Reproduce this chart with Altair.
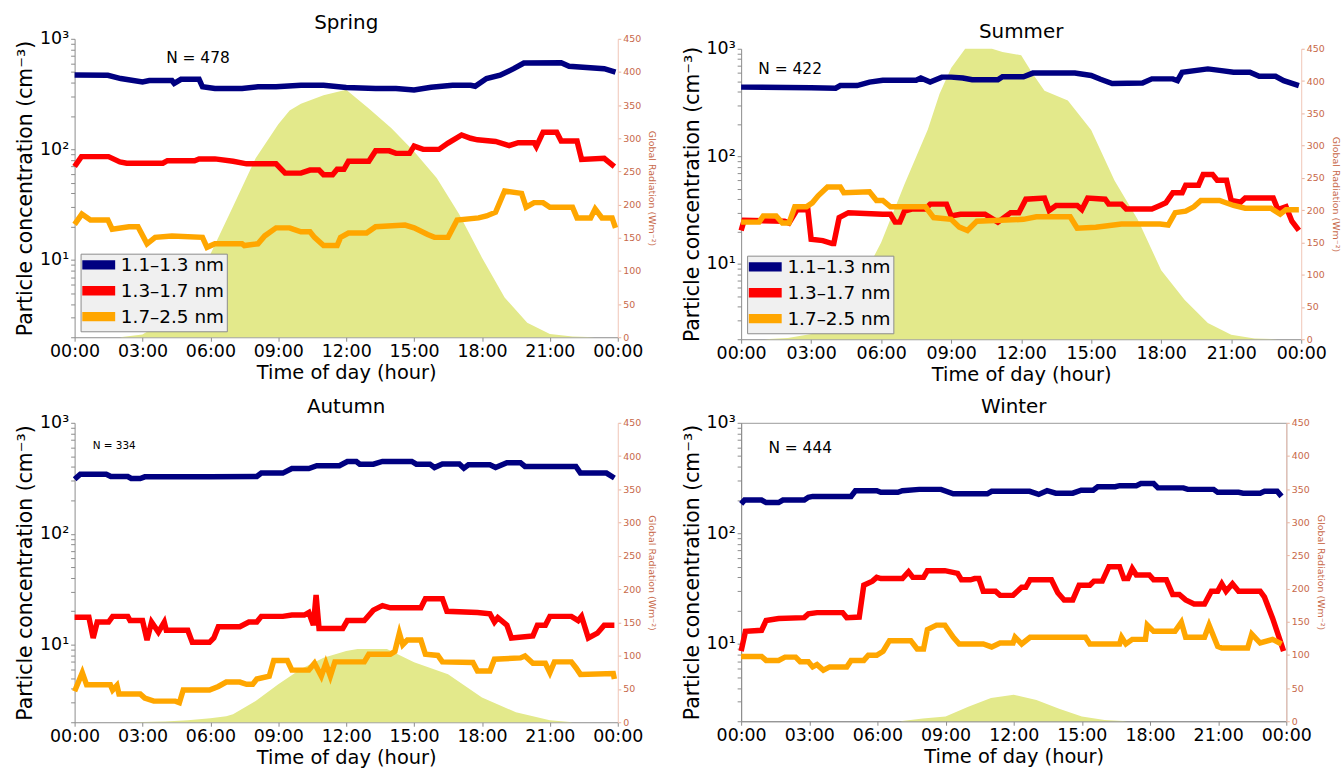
import altair as alt
import pandas as pd

FONT = "DejaVu Sans"
SIZES = ["1.1–1.3 nm", "1.3–1.7 nm", "1.7–2.5 nm"]
COLORS = ["#000080", "#ff0000", "#ffa600"]
AREA_COLOR = "#e3e98b"
RAD_COLOR = "#c8694a"

# ---------------- Spring ----------------
SPRING_T_BLUE = [0, 1.47, 2.04, 3.0, 3.3, 4.3, 4.4, 4.7, 5.5, 5.65, 6.2, 7.4, 8.1, 8.9, 10.0, 11.0, 12.0, 13.3, 14.2, 15.0,
                 15.75, 16.7, 17.5, 17.7, 18.2, 18.8, 19.4, 19.85, 21.5, 21.85, 23.4, 23.9]
SPRING_BLUE = [470, 468, 437, 408, 420, 420, 395, 430, 430, 368, 355, 355, 368, 368, 380, 380, 363, 355, 355, 345,
               365, 380, 380, 372, 437, 468, 537, 604, 608, 565, 537, 500]
SPRING_T_RED = [0, 0.3, 1.5, 2.0, 2.3, 3.9, 4.1, 5.3, 5.5, 6.2, 7.0, 7.6, 8.9, 9.3, 10.0, 10.4, 10.8, 11.0, 11.4, 11.6,
                11.9, 12.1, 13.0, 13.3, 13.9, 14.2, 14.8, 15.0, 15.4, 16.1, 16.5, 17.1, 17.5, 17.8, 18.6, 19.2, 19.6,
                20.3, 20.4, 20.7, 21.3, 21.5, 22.2, 22.4, 23.4, 23.85]
SPRING_RED = [70, 86, 86, 77, 75, 75, 79, 79, 82, 82, 78, 74, 74, 61, 61, 65, 65, 59, 59, 66,
              66, 78, 78, 97, 97, 92, 92, 107, 100, 100, 114, 135, 126, 122, 118, 108, 115,
              115, 106, 143, 143, 119, 119, 81, 83, 70]
SPRING_T_ORANGE = [0, 0.32, 0.7, 1.47, 1.66, 2.4, 2.8, 3.2, 3.56, 4.3, 5.65, 5.85, 6.2, 7.4, 7.5, 8.1, 8.4, 8.9, 9.5,
                   9.65, 10.0, 10.4, 10.6, 11.0, 11.6, 11.75, 12.1, 12.9, 13.3, 14.6, 15.0, 15.6, 15.9, 16.5, 16.9,
                   17.85, 18.2, 18.6, 19.0, 19.75, 19.95, 20.3, 20.7, 21.0, 22.0, 22.2, 22.8, 23.0, 23.3, 23.75, 23.9]
SPRING_ORANGE = [21, 26, 23, 23, 19, 20, 20, 14, 16, 16.5, 16, 13, 14, 14, 13.5, 14, 16.5, 19.5, 19.5,
                 19, 18, 18, 16, 13.5, 13.5, 16, 17.5, 17.5, 20, 20.7, 19.5, 17, 16, 16, 23,
                 24, 25, 27, 42, 40, 30, 33, 33, 30, 30, 24, 24, 29, 24, 24, 19.5]
SPRING_T_RAD = [0, 2, 3, 4, 5, 6, 7, 8, 9, 9.5, 10, 11, 12, 13, 14, 15, 16, 17, 18, 19, 20, 21, 22, 23, 24]
SPRING_RAD = [0, 0, 4, 25, 70, 125, 197, 270, 321, 342, 352, 365, 373, 345, 315, 280, 240, 185, 120, 60, 22, 5, 1, 0, 0]

# ---------------- Summer ----------------
SUMMER_T_BLUE = [0, 3.0, 4.05, 4.25, 4.97, 5.5, 6.07, 7.5, 7.7, 8.1, 8.6, 9.0, 9.5, 9.9, 11.0, 11.2, 12.1, 12.5, 14.3,
                 15.0, 15.4, 15.9, 17.2, 17.6, 18.5, 18.7, 18.9, 20.0, 20.5, 21.1, 21.8, 22.2, 22.9, 23.25, 23.9]
SUMMER_BLUE = [440, 435, 430, 455, 455, 490, 510, 510, 535, 490, 545, 545, 535, 515, 515, 550, 550, 594, 594,
               565, 520, 475, 480, 525, 525, 505, 605, 650, 630, 605, 605, 555, 555, 505, 455]
SUMMER_T_RED = [0, 0.13, 1.86, 2.05, 2.4, 2.86, 3.0, 3.5, 3.9, 3.97, 4.2, 4.6, 6.07, 6.4, 6.6, 6.8, 7.0, 7.35, 7.9,
                8.1, 8.8, 9.0, 9.4, 10.45, 11.0, 11.55, 11.9, 12.2, 13.0, 13.2, 13.5, 14.4, 14.6, 14.85, 15.6, 15.75,
                16.3, 16.5, 17.6, 17.95, 18.2, 18.5, 18.9, 19.05, 19.6, 19.8, 20.2, 20.4, 20.8, 21.0, 21.4, 21.6,
                22.8, 23.0, 23.35, 23.6, 23.9]
SUMMER_RED = [20.5, 25.5, 25, 24, 32, 32, 17, 16.5, 15.5, 15.5, 27, 30, 29, 29, 24.5, 24.5, 31, 32.5, 32.5,
              36, 36, 28, 29, 29, 24.5, 30, 30, 40, 41, 31.5, 35, 35, 32, 41, 40, 36,
              36, 32.5, 32.5, 35, 37, 46, 46, 54, 54, 68, 68, 60, 60, 39, 37.5, 41,
              41, 32, 34, 25, 20.5]
SUMMER_T_ORANGE = [0, 0.77, 0.95, 1.5, 1.77, 2.05, 2.3, 2.8, 3.05, 3.3, 3.7, 4.25, 4.4, 5.5, 5.8, 6.07, 6.4, 7.9, 8.25,
                   9.0, 9.35, 9.7, 10.1, 12.1, 12.65, 14.1, 14.4, 15.2, 16.3, 17.95, 18.3, 18.6, 19.05, 19.4, 19.7,
                   20.5, 21.1, 21.6, 22.7, 23.1, 23.35, 23.9]
SUMMER_ORANGE = [24.5, 24.5, 28, 28, 24, 24, 34, 34, 37, 43, 52, 52, 46, 47, 39, 39, 34, 34, 27,
                 26, 22, 20.5, 25, 26, 27.5, 27.5, 21.5, 22, 23.5, 23.5, 23, 30, 31, 34, 39,
                 39, 35, 33, 33, 29, 32, 32]
SUMMER_T_RAD = [0, 1, 2, 3, 4, 5, 6, 7, 8, 8.5, 9, 9.6, 10.75, 11.2, 12.0, 12.5, 13.0, 14.0, 15.0, 16.0, 17.0, 18, 19,
                20, 21, 22, 23, 24]
SUMMER_RAD = [0, 0, 2, 8, 30, 80, 150, 240, 325, 380, 420, 450, 450, 445, 440, 411, 385, 370, 324, 246, 185, 107, 61,
              25, 7, 1, 0, 0]

# ---------------- Autumn ----------------
AUTUMN_T_BLUE = [0, 0.25, 1.4, 1.6, 2.35, 2.5, 2.9, 3.1, 5.96, 8.05, 8.25, 9.2, 9.6, 10.35, 10.7, 11.7, 12.05, 12.45,
                 12.6, 13.2, 13.6, 14.9, 15.1, 15.7, 15.9, 16.25, 17.0, 17.2, 17.4, 18.35, 18.6, 19.1, 19.7, 19.9,
                 22.15, 22.35, 23.5, 23.85]
AUTUMN_BLUE = [310, 344, 344, 328, 328, 315, 315, 326, 326, 328, 352, 352, 387, 387, 410, 410, 448, 448,
               424, 424, 448, 448, 424, 424, 395, 426, 426, 390, 418, 418, 395, 437, 437, 404,
               404, 352, 352, 318]
AUTUMN_T_RED = [0, 0.63, 0.82, 1.0, 1.5, 1.68, 2.35, 2.45, 3.0, 3.2, 3.4, 3.7, 3.96, 4.05, 5.0, 5.2, 5.96, 6.15, 6.35,
                7.3, 7.7, 8.05, 8.25, 9.2, 9.6, 10.15, 10.35, 10.55, 10.67, 10.8, 11.85, 12.05, 12.8, 13.2, 13.6,
                13.95, 15.3, 15.5, 16.25, 16.45, 17.8, 18.35, 18.55, 18.7, 19.1, 19.3, 20.25, 20.45, 20.8, 21.0,
                21.95, 22.25, 22.4, 22.7, 23.1, 23.4, 23.85]
AUTUMN_RED = [17.7, 17.7, 11.5, 16, 16, 18, 18, 16.5, 16.5, 11, 16, 13, 16, 13.5, 13.5, 10.5, 10.5, 11.5, 14.5,
              14.5, 16, 16, 18, 18, 18.5, 18.5, 19.5, 15, 28, 14, 14, 16.5, 16.5, 20.5, 22.5,
              21.5, 21.5, 26, 26, 20, 19.5, 19, 16, 17.5, 15, 11.5, 12, 15, 15, 18,
              18, 16.5, 18, 11.5, 12.7, 15, 15]
AUTUMN_T_ORANGE = [0, 0.34, 0.53, 1.58, 1.68, 1.87, 1.96, 2.9, 3.1, 3.5, 4.45, 4.63, 4.8, 5.96, 6.35, 6.7, 7.3, 7.6,
                   7.87, 8.05, 8.6, 8.8, 9.4, 9.6, 10.35, 10.6, 10.9, 11.1, 11.3, 11.5, 12.8, 13.0, 13.95, 14.15,
                   14.35, 14.5, 14.7, 15.3, 15.5, 16.05, 16.25, 17.6, 17.8, 18.35, 18.55, 19.7, 19.9, 20.25, 20.8,
                   21.0, 21.2, 21.95, 22.15, 22.35, 23.8, 23.85]
AUTUMN_ORANGE = [3.8, 5.6, 4.35, 4.35, 3.9, 4.3, 3.6, 3.6, 3.3, 3.1, 3.1, 3.0, 3.9, 3.9, 4.2, 4.6, 4.6, 4.4,
                 4.4, 4.9, 5.2, 7.2, 7.2, 5.9, 5.9, 6.8, 5.2, 6.8, 5.2, 7.0, 7.0, 8.2, 8.2, 8.7,
                 12.7, 10, 11, 11, 8.2, 8, 7, 6.9, 5.8, 5.8, 7.4, 7.6, 7.9, 6.8, 6.8,
                 5.6, 7.0, 7.0, 6.2, 5.4, 5.5, 4.9]
AUTUMN_T_RAD = [0, 2, 3, 4, 5, 6, 6.7, 7, 8, 9, 10, 11, 12, 12.5, 13.8, 15, 16.5, 18, 19.5, 21, 22, 24]
AUTUMN_RAD = [0, 0, 0.5, 1, 3, 6, 9, 12, 32, 57, 80, 97, 107, 110, 110, 90, 72, 37, 15, 3, 0, 0]

# ---------------- Winter ----------------
WINTER_T_BLUE = [0, 0.15, 0.9, 1.1, 1.65, 1.84, 2.78, 2.96, 3.15, 4.84, 5.03, 5.97, 6.15, 6.9, 7.1, 7.84, 8.8, 9.34,
                 10.84, 11.03, 12.7, 13.1, 13.47, 13.85, 14.6, 14.97, 15.5, 15.7, 16.47, 16.66, 17.4, 17.6, 18.16,
                 18.35, 19.47, 19.66, 20.8, 20.98, 21.9, 22.1, 22.85, 23.04, 23.6, 23.79]
WINTER_BLUE = [185, 200, 200, 190, 190, 200, 200, 212, 216, 216, 243, 243, 235, 235, 243, 250, 250, 228,
               228, 240, 240, 225, 243, 231, 231, 246, 246, 264, 264, 270, 270, 282, 282,
               258, 258, 250, 250, 235, 235, 231, 231, 240, 240, 216]
WINTER_T_RED = [0, 0.19, 0.9, 1.1, 1.65, 2.78, 2.96, 3.34, 4.47, 4.65, 5.2, 5.4, 5.78, 5.97, 6.15, 7.1, 7.37, 7.56,
                8.03, 8.2, 8.97, 9.53, 9.7, 10.1, 10.28, 10.47, 10.66, 11.2, 11.4, 11.97, 12.35, 12.53, 12.72, 13.66,
                13.94, 14.22, 14.6, 14.88, 15.35, 15.53, 15.9, 16.19, 16.66, 16.85, 17.03, 17.22, 17.4, 17.97,
                18.16, 18.72, 19.0, 19.29, 19.57, 19.94, 20.4, 20.7, 20.98, 21.16, 21.35, 21.63, 21.9, 22.85,
                23.04, 23.4, 23.7, 23.88]
WINTER_RED = [8.6, 13, 13.3, 16.3, 17, 17.3, 18.7, 19.2, 19.2, 17.3, 17.5, 34, 37, 40, 39, 39, 45, 40,
              40, 46, 46, 43.5, 38, 38, 39, 39, 30, 30, 27.5, 27.5, 32.5, 32.5, 38, 38,
              29, 25, 25, 34, 34, 37, 37, 50, 50, 39, 39, 48, 42, 42,
              38, 38, 28, 28, 25, 23, 23, 30, 30, 35, 30, 35, 30, 30,
              26.5, 17, 11.2, 8.6]
WINTER_T_ORANGE = [0, 0.9, 1.1, 1.65, 1.93, 2.4, 2.6, 2.96, 3.15, 3.34, 3.62, 3.9, 4.65, 4.84, 5.4, 5.6, 5.97, 6.25,
                   6.53, 7.47, 7.75, 8.03, 8.2, 8.6, 8.97, 9.34, 9.6, 10.66, 11.03, 11.4, 11.97, 12.06, 12.35,
                   12.72, 15.16, 15.35, 16.66, 16.75, 16.94, 17.22, 17.8, 17.88, 18.16, 19.1, 19.38, 19.57, 20.4,
                   20.6, 20.98, 21.16, 22.3, 22.48, 22.85, 23.4, 23.79]
WINTER_ORANGE = [7.7, 7.7, 7.1, 7.1, 7.6, 7.6, 6.9, 6.9, 6.2, 6.5, 5.8, 6.2, 6.2, 7.1, 7.1, 7.9, 7.9, 8.6,
                 10.7, 10.7, 9.0, 9.0, 13.5, 14.8, 14.8, 11.5, 10, 10, 9.4, 10.2, 10.2, 11.5, 10,
                 11.5, 11.5, 10, 10, 11.5, 10, 11, 11, 14.8, 13, 13, 15.7, 11.5, 11.5,
                 14.8, 9.5, 9.2, 9.2, 12.3, 10.2, 11, 10]
WINTER_T_RAD = [0, 7, 8, 9, 10, 11, 12, 13, 14, 15, 16, 17, 24]
WINTER_RAD = [0, 0, 4, 7, 22, 35, 40, 32, 19, 7, 2, 0, 0]

# annotations (label, hour, concentration)
N_LABELS = ["N = 478", "N = 422", "N = 334", "N = 444"]
N_HOURS = [5.45, 2.1, 1.75, 2.6]
N_CONC = [675, 650, 620, 590]

X_TICKS = list(range(0, 25, 3))
LOG_TICKS = [2, 3, 4, 5, 6, 7, 8, 9, 10, 20, 30, 40, 50, 60, 70, 80, 90,
             100, 200, 300, 400, 500, 600, 700, 800, 900, 1000]
RAD_TICKS = list(range(0, 451, 50))

LEGEND_SHAPE = "M-2.55,-0.4H2.55V0.4H-2.55Z"


def make_panel(title, width, height, top_gap, rad_t, rad_v, series, n_idx, n_size, show_legend, framed):
    frames = []
    for name, (t, v) in zip(SIZES, series):
        d = pd.DataFrame({"hour": t, "conc": v})
        d["size"] = name
        frames.append(d)
    lines_df = pd.concat(frames, ignore_index=True)
    rad_df = pd.DataFrame({"hour": rad_t, "rad": rad_v})
    n_df = pd.DataFrame({"hour": [N_HOURS[n_idx]], "conc": [N_CONC[n_idx]], "label": [N_LABELS[n_idx]]})

    x_axis = alt.Axis(values=X_TICKS,
                      labelExpr="datum.value == 24 ? '00:00' : (datum.value < 10 ? '0' : '') + datum.value + ':00'",
                      title="Time of day (hour)", titleFontSize=19.5, titleFontWeight="normal", titleColor="black",
                      labelFontSize=17.5, labelColor="black", labelPadding=1, titlePadding=4,
                      domainColor="#8c8c8c", tickColor="#8c8c8c", tickSize=4, grid=False,
                      labelFlush=False, labelOverlap=False)
    x = alt.X("hour:Q", scale=alt.Scale(domain=[0, 24], nice=False, zero=False), axis=x_axis)

    y_axis = alt.Axis(orient="left", values=LOG_TICKS,
                      labelExpr="datum.value == 10 ? '10¹' : datum.value == 100 ? '10²' : datum.value == 1000 ? '10³' : ''",
                      title="Particle concentration (cm⁻³)", titleFontSize=20.5, titleFontWeight="normal",
                      titleColor="black", labelFontSize=17.5, labelColor="black", labelPadding=2, titlePadding=4,
                      domainColor="#8c8c8c", tickColor="#8c8c8c", tickSize=4, grid=False,
                      labelOverlap=False, labelFlush=False)
    y_range = [height, top_gap]
    y_log = alt.Y("conc:Q", scale=alt.Scale(type="log", domain=[2, 1000], nice=False, range=y_range), axis=y_axis)

    rad_axis = alt.Axis(orient="right", values=RAD_TICKS, title="Global Radiation (Wm⁻²)",
                        titleFontSize=9.5, titleFontWeight="normal", titleColor=RAD_COLOR,
                        labelFontSize=9.5, labelColor=RAD_COLOR, labelPadding=2, titlePadding=6,
                        domainColor="#f0c6b6", tickColor="#e9b29e", tickSize=3, grid=False,
                        labelOverlap=False, labelFlush=False)
    area = alt.Chart(rad_df).mark_area(color=AREA_COLOR, opacity=1).encode(
        x=x,
        y=alt.Y("rad:Q", scale=alt.Scale(domain=[0, 450], nice=False, range=y_range), axis=rad_axis),
    )

    if show_legend:
        legend = alt.Legend(orient="bottom-left", title=None, fillColor="#f0f0f0", strokeColor="#8c8c8c",
                            padding=2, offset=6, symbolType=LEGEND_SHAPE, symbolStrokeWidth=5, symbolSize=121,
                            symbolOffset=7, labelOffset=13, labelFontSize=18.5, labelFont=FONT,
                            labelColor="black", rowPadding=1)
        color = alt.Color("size:N", scale=alt.Scale(domain=SIZES, range=COLORS), legend=legend)
    else:
        color = alt.Color("size:N", scale=alt.Scale(domain=SIZES, range=COLORS), legend=None)

    lines = alt.Chart(lines_df).mark_line(strokeWidth=5.5).encode(x=x, y=y_log, color=color)
    text = alt.Chart(n_df).mark_text(fontSize=n_size, font=FONT, color="black").encode(
        x=x, y=y_log, text="label:N")

    props = dict(width=width, height=height,
                 title=alt.TitleParams(title, fontSize=20, fontWeight="normal", font=FONT, color="black",
                                       offset=-3, anchor="middle", frame="group"))
    if framed:
        props["view"] = alt.ViewBackground(stroke="#9a9a9a", strokeWidth=1)
    return alt.layer(area, alt.layer(lines, text)).resolve_scale(y="independent").properties(**props)


spring = make_panel("Spring", 546, 300, 0, SPRING_T_RAD, SPRING_RAD,
                    [(SPRING_T_BLUE, SPRING_BLUE), (SPRING_T_RED, SPRING_RED), (SPRING_T_ORANGE, SPRING_ORANGE)],
                    0, 15.5, True, False)
summer = make_panel("Summer", 563, 302, 10, SUMMER_T_RAD, SUMMER_RAD,
                    [(SUMMER_T_BLUE, SUMMER_BLUE), (SUMMER_T_RED, SUMMER_RED), (SUMMER_T_ORANGE, SUMMER_ORANGE)],
                    1, 15.5, True, False)
autumn = make_panel("Autumn", 546, 301, 0, AUTUMN_T_RAD, AUTUMN_RAD,
                    [(AUTUMN_T_BLUE, AUTUMN_BLUE), (AUTUMN_T_RED, AUTUMN_RED), (AUTUMN_T_ORANGE, AUTUMN_ORANGE)],
                    2, 10.5, False, False)
winter = make_panel("Winter", 548, 300, 0, WINTER_T_RAD, WINTER_RAD,
                    [(WINTER_T_BLUE, WINTER_BLUE), (WINTER_T_RED, WINTER_RED), (WINTER_T_ORANGE, WINTER_ORANGE)],
                    3, 15.5, False, True)

chart = alt.concat(
    spring, summer, autumn, winter,
    columns=2, bounds="flush", align="all",
    spacing=alt.RowColnumber(row=84, column=107),
).resolve_scale(color="independent").properties(
    padding={"left": 15, "top": 11, "right": 0, "bottom": 0},
    background="white",
).configure_view(strokeWidth=0).configure_axis(labelFont=FONT, titleFont=FONT).configure_legend(labelFont=FONT)

chart.save("out.html", embed_options={"renderer": "svg", "actions": False})
